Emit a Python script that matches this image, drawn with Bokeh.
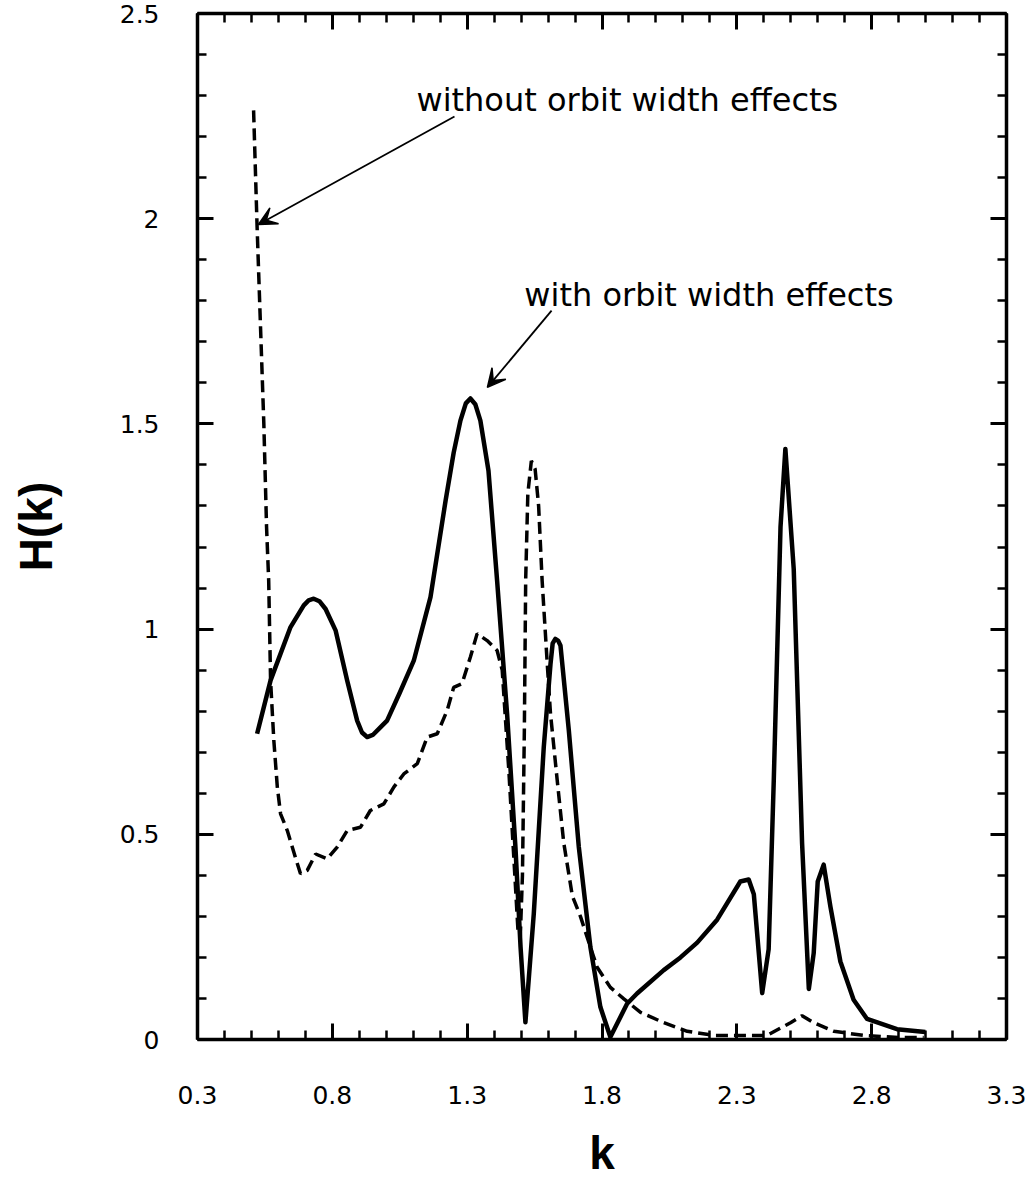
from bokeh.plotting import figure
from bokeh.models import (Range1d, LinearAxis, FixedTicker, Label, Arrow, VeeHead,
                          CustomLabelingPolicy)
from bokeh.embed import file_html
from bokeh.resources import INLINE

# ---- data ----
k_with = [0.521, 0.571, 0.645, 0.694, 0.712, 0.731, 0.752, 0.775, 0.812, 0.855,
          0.892, 0.910, 0.929, 0.950, 0.979, 1.003, 1.05, 1.102, 1.164, 1.22,
          1.250, 1.275, 1.295, 1.312, 1.330, 1.349, 1.379, 1.411, 1.448, 1.479,
          1.498, 1.516, 1.547, 1.584, 1.609, 1.617, 1.627, 1.637, 1.646, 1.677,
          1.714, 1.757, 1.794, 1.831, 1.893, 1.930, 2.029, 2.091, 2.153, 2.227,
          2.313, 2.344, 2.363, 2.394, 2.418, 2.437, 2.462, 2.480, 2.511, 2.542,
          2.567, 2.585, 2.600, 2.622, 2.647, 2.684, 2.733, 2.783, 2.894, 2.999]
h_with = [0.745, 0.875, 1.005, 1.058, 1.070, 1.074, 1.068, 1.049, 0.997, 0.875,
          0.777, 0.748, 0.737, 0.742, 0.761, 0.777, 0.845, 0.923, 1.078, 1.313,
          1.430, 1.508, 1.550, 1.562, 1.548, 1.508, 1.386, 1.118, 0.794, 0.469,
          0.225, 0.042, 0.306, 0.712, 0.915, 0.965, 0.976, 0.972, 0.960, 0.753,
          0.469, 0.225, 0.079, 0.006, 0.087, 0.112, 0.169, 0.200, 0.236, 0.292,
          0.385, 0.390, 0.354, 0.113, 0.220, 0.632, 1.249, 1.439, 1.146, 0.478,
          0.123, 0.210, 0.385, 0.426, 0.324, 0.190, 0.097, 0.050, 0.025, 0.018]

k_without = [0.508, 0.521, 0.546, 0.556, 0.564, 0.571, 0.583, 0.596, 0.608, 0.633,
             0.663, 0.682, 0.707, 0.738, 0.781, 0.818, 0.855, 0.904, 0.941, 0.991,
             1.028, 1.065, 1.115, 1.152, 1.189, 1.226, 1.250, 1.281, 1.312, 1.337,
             1.374, 1.411, 1.430, 1.455, 1.475, 1.488, 1.497, 1.505, 1.512, 1.517,
             1.525, 1.538, 1.552, 1.565, 1.578, 1.597, 1.609, 1.634, 1.658, 1.690,
             1.720, 1.757, 1.782, 1.831, 1.881, 1.943, 2.029, 2.116, 2.214, 2.330,
             2.412, 2.499, 2.542, 2.585, 2.660, 2.770, 2.900, 2.993]
h_without = [2.264, 1.980, 1.500, 1.250, 1.118, 0.875, 0.729, 0.615, 0.550, 0.509,
             0.444, 0.404, 0.412, 0.452, 0.440, 0.469, 0.509, 0.517, 0.558, 0.574,
             0.615, 0.647, 0.672, 0.737, 0.745, 0.802, 0.858, 0.867, 0.932, 0.989,
             0.972, 0.948, 0.900, 0.650, 0.420, 0.270, 0.250, 0.400, 0.750, 1.120,
             1.330, 1.410, 1.390, 1.300, 1.118, 0.915, 0.794, 0.631, 0.480, 0.350,
             0.300, 0.225, 0.176, 0.127, 0.099, 0.066, 0.041, 0.020, 0.010, 0.010,
             0.010, 0.041, 0.058, 0.041, 0.020, 0.010, 0.005, 0.005]

x_ticks = [0.3, 0.8, 1.3, 1.8, 2.3, 2.8, 3.3]
x_tick_labels = ["0.3", "0.8", "1.3", "1.8", "2.3", "2.8", "3.3"]
y_ticks = [0, 0.5, 1, 1.5, 2, 2.5]
y_tick_labels = ["0", "0.5", "1", "1.5", "2", "2.5"]
x_minor = [round(0.3 + 0.1 * i, 2) for i in range(31)]
y_minor = [round(0.1 * i, 2) for i in range(26)]

TICK_FONT = "DejaVu Sans"
LABEL_FONT = "Liberation Sans"

p = figure(width=1034, height=1183, output_backend="svg", toolbar_location=None,
           x_range=Range1d(0.3, 3.3), y_range=Range1d(0, 2.5),
           x_axis_location=None, y_axis_location=None,
           min_border_left=197, min_border_right=28, min_border_top=13, min_border_bottom=144)
p.outline_line_color = None
p.background_fill_color = "white"
p.border_fill_color = "white"
p.grid.visible = False

no_labels = CustomLabelingPolicy(code="""
const ids = Array.from(indices)
for (const i of ids) { indices.unset(i) }
return indices
""")


def style(ax, show_labels):
    ax.axis_line_width = 3.5
    ax.axis_line_color = "black"
    ax.major_tick_in = 16
    ax.major_tick_out = 0
    ax.minor_tick_in = 9
    ax.minor_tick_out = 0
    ax.major_tick_line_width = 3
    ax.minor_tick_line_width = 2.5
    ax.major_tick_line_color = "black"
    ax.minor_tick_line_color = "black"
    if not show_labels:
        ax.major_label_policy = no_labels
        ax.major_label_standoff = 0


xb = LinearAxis(ticker=FixedTicker(ticks=x_ticks, minor_ticks=x_minor))
style(xb, True)
xb.major_label_overrides = {t: s for t, s in zip(x_ticks, x_tick_labels)}
xb.major_label_text_font = TICK_FONT
xb.major_label_text_font_size = "25px"
xb.major_label_text_color = "black"
xb.major_label_standoff = 46
xb.axis_label = "k"
xb.axis_label_text_font = LABEL_FONT
xb.axis_label_text_font_style = "bold"
xb.axis_label_text_font_size = "46px"
xb.axis_label_text_color = "black"
xb.axis_label_standoff = 20
p.add_layout(xb, "below")

yl = LinearAxis(ticker=FixedTicker(ticks=y_ticks, minor_ticks=y_minor))
style(yl, True)
yl.major_label_overrides = {t: s for t, s in zip(y_ticks, y_tick_labels)}
yl.major_label_text_font = TICK_FONT
yl.major_label_text_font_size = "25px"
yl.major_label_text_color = "black"
yl.major_label_standoff = 38
yl.major_label_text_baseline = "top"
yl.axis_label = "H(k)"
yl.axis_label_text_font = LABEL_FONT
yl.axis_label_text_font_style = "bold"
yl.axis_label_text_font_size = "46px"
yl.axis_label_text_color = "black"
yl.axis_label_standoff = 55
p.add_layout(yl, "left")

xt = LinearAxis(ticker=FixedTicker(ticks=x_ticks, minor_ticks=x_minor))
style(xt, False)
p.add_layout(xt, "above")

yr = LinearAxis(ticker=FixedTicker(ticks=y_ticks, minor_ticks=y_minor))
style(yr, False)
p.add_layout(yr, "right")

p.line(k_with, h_with, line_color="black", line_width=4.5, line_join="round")
p.line(k_without, h_without, line_color="black", line_width=3.5, line_dash="12 6")

p.add_layout(Arrow(end=VeeHead(size=18, fill_color="black", line_color="black", line_width=1.5),
                   x_start=1.253, y_start=2.249, x_end=0.526, y_end=1.986,
                   line_color="black", line_width=1.8))
p.add_layout(Arrow(end=VeeHead(size=18, fill_color="black", line_color="black", line_width=1.5),
                   x_start=1.613, y_start=1.776, x_end=1.375, y_end=1.589,
                   line_color="black", line_width=1.8))

p.add_layout(Label(x=1.112, y=2.290, text="without orbit width effects",
                   text_font=TICK_FONT, text_font_size="32px", text_color="black",
                   text_baseline="alphabetic", text_align="left"))
p.add_layout(Label(x=1.512, y=1.813, text="with orbit width effects",
                   text_font=TICK_FONT, text_font_size="32px", text_color="black",
                   text_baseline="alphabetic", text_align="left"))

open("out.html", "w").write(file_html(p, INLINE))
